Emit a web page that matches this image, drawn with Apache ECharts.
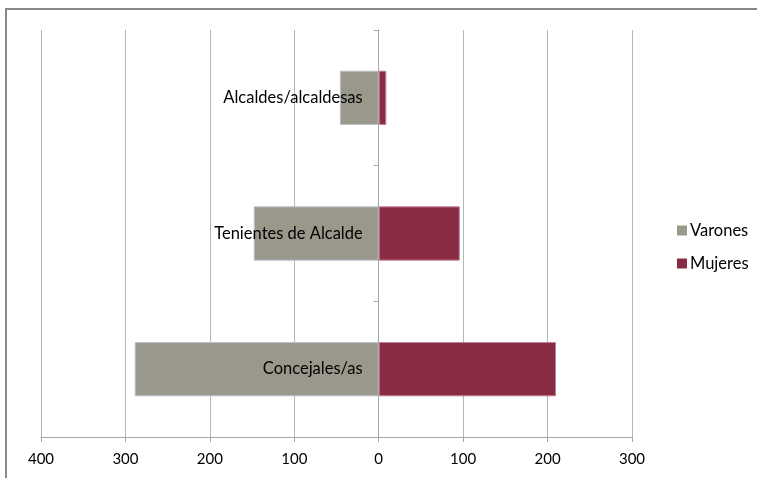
<!DOCTYPE html>
<html>
<head>
<meta charset="utf-8">
<script src="https://cdn.jsdelivr.net/npm/echarts@6/dist/echarts.min.js"></script>
<style>
  html, body { margin: 0; padding: 0; background: #fff; }
  #chart { width: 757px; height: 478px; }
</style>
</head>
<body>
<div id="chart"></div>
<script>
var categories = ['Concejales/as', 'Tenientes de Alcalde', 'Alcaldes/alcaldesas'];
var varones = [289, 148, 46];
var mujeres = [210, 96, 9];
var seriesNames = ['Varones', 'Mujeres'];

var font = 'Lato';
var gridLeft = 41, gridRight = 125;
var xMin = -400, xMax = 300;
// move the category axis onto the zero line (labels follow it)
var zeroOffset = -(757 - gridLeft - gridRight) * (0 - xMin) / (xMax - xMin);

var chart = echarts.init(document.getElementById('chart'));
chart.setOption({
  backgroundColor: '#fff',
  animation: false,
  textStyle: { fontFamily: font },
  graphic: [{
    type: 'rect',
    shape: { x: 6, y: 9, width: 800, height: 520 },
    style: { fill: 'none', stroke: '#8a8a84', lineWidth: 2 },
    silent: true
  }],
  legend: {
    orient: 'vertical',
    left: 672,
    top: 217,
    itemWidth: 10,
    itemHeight: 10,
    itemGap: 16,
    icon: 'rect',
    itemStyle: { borderWidth: 0 },
    textStyle: { fontSize: 16.5, color: '#000', fontFamily: font, padding: [0, 0, 0, -2] },
    data: seriesNames
  },
  grid: { left: gridLeft, right: gridRight, top: 30, bottom: 41, outerBoundsMode: 'none' },
  xAxis: {
    type: 'value',
    min: xMin,
    max: xMax,
    interval: 100,
    axisLine: { show: true, lineStyle: { color: '#a6a6a6' } },
    axisTick: { show: true, length: 5, lineStyle: { color: '#a6a6a6' } },
    splitLine: { show: true, lineStyle: { color: '#b5b5b5' } },
    axisLabel: {
      margin: 15,
      fontSize: 15,
      color: '#000',
      formatter: function (v) { return Math.abs(v); }
    }
  },
  yAxis: {
    type: 'category',
    data: categories,
    z: 10,
    offset: zeroOffset,
    axisLine: { onZero: false, lineStyle: { color: '#a6a6a6' } },
    axisTick: { show: true, length: 5, lineStyle: { color: '#a6a6a6' } },
    axisLabel: { margin: 16, fontSize: 16.5, color: '#000' }
  },
  series: [
    {
      name: 'Varones',
      type: 'bar',
      stack: 'total',
      barWidth: '40%',
      itemStyle: { color: '#9a988b', borderColor: '#b7c0cc', borderWidth: 1 },
      data: varones.map(function (v) { return -v; })
    },
    {
      name: 'Mujeres',
      type: 'bar',
      stack: 'total',
      barWidth: '40%',
      itemStyle: { color: '#8a2b44', borderColor: '#c08090', borderWidth: 1 },
      data: mujeres
    }
  ]
});
</script>
</body>
</html>
